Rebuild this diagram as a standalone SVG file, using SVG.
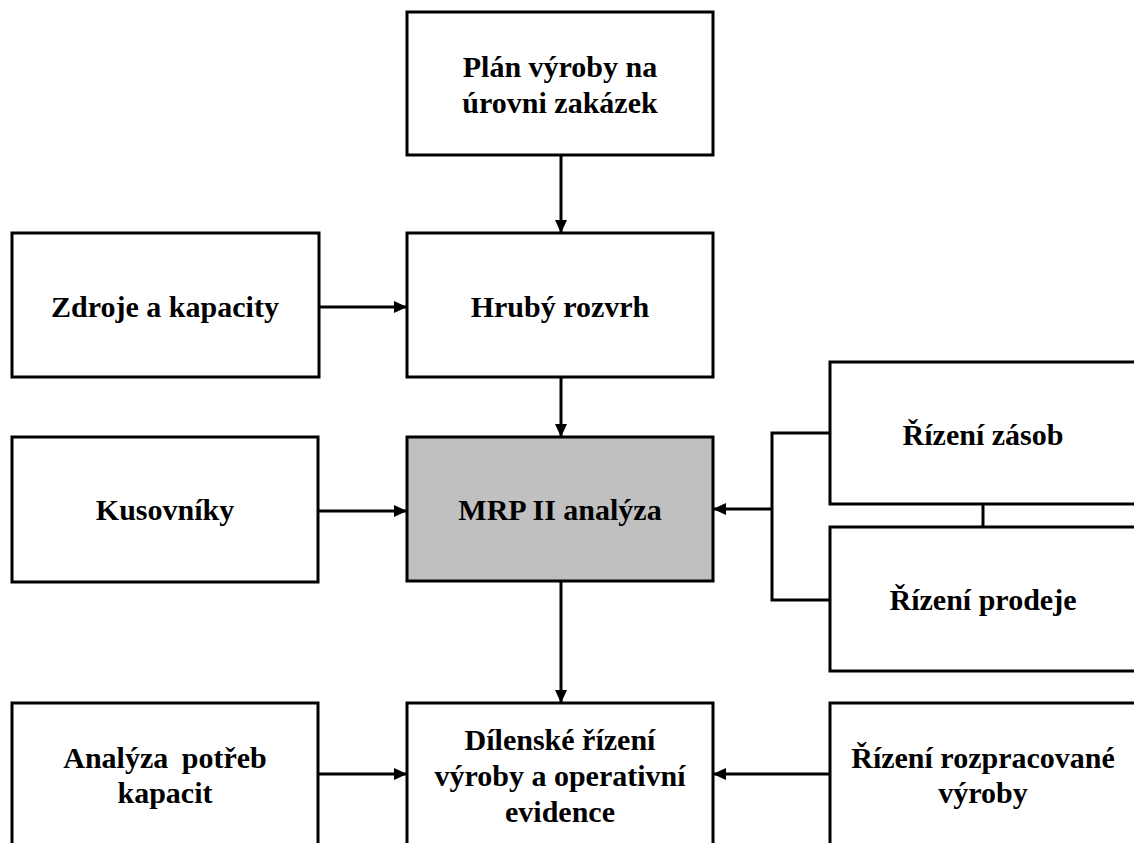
<svg xmlns="http://www.w3.org/2000/svg" width="1134" height="843" viewBox="0 0 1134 843">
  <style>
    .box { fill: #ffffff; stroke: #000000; stroke-width: 3; }
    .box.main { fill: #c0c0c0; }
    .lbl { font-family: 'Liberation Serif', 'Times New Roman', Tinos, 'DejaVu Serif', serif; font-weight: 700; font-size: 30px; fill: #000000; text-anchor: middle; }
    .wire { fill: none; stroke: #000000; stroke-width: 3; }
  </style>
  <defs>
    <marker id="arrow" markerUnits="userSpaceOnUse" markerWidth="13" markerHeight="12" refX="12" refY="6" orient="auto">
      <path d="M0,0 L13,6 L0,12 z" fill="#000000"/>
    </marker>
  </defs>
  <rect width="1134" height="843" fill="#ffffff"/>

  <g id="connectors">
    <line class="wire" x1="561" y1="155" x2="561" y2="232" marker-end="url(#arrow)"/>
    <line class="wire" x1="320" y1="307" x2="406" y2="307" marker-end="url(#arrow)"/>
    <line class="wire" x1="561" y1="377" x2="561" y2="436" marker-end="url(#arrow)"/>
    <line class="wire" x1="319" y1="511" x2="406" y2="511" marker-end="url(#arrow)"/>
    <line class="wire" x1="561" y1="581" x2="561" y2="702" marker-end="url(#arrow)"/>
    <path class="wire" d="M830,433 H772 V600 H830"/>
    <line class="wire" x1="772" y1="509" x2="714" y2="509" marker-end="url(#arrow)"/>
    <line class="wire" x1="983" y1="504" x2="983" y2="527"/>
    <line class="wire" x1="318" y1="774" x2="406" y2="774" marker-end="url(#arrow)"/>
    <line class="wire" x1="830" y1="774" x2="714" y2="774" marker-end="url(#arrow)"/>
  </g>

  <g id="plan">
    <rect class="box" x="407" y="12" width="306" height="143"/>
    <text class="lbl" x="560" y="77">Plán výroby na</text>
    <text class="lbl" x="560" y="113">úrovni zakázek</text>
  </g>
  <g id="hruby-rozvrh">
    <rect class="box" x="407" y="233" width="306" height="144"/>
    <text class="lbl" x="560" y="317">Hrubý rozvrh</text>
  </g>
  <g id="zdroje">
    <rect class="box" x="12" y="233" width="307" height="144"/>
    <text class="lbl" x="165" y="317">Zdroje a kapacity</text>
  </g>
  <g id="kusovniky">
    <rect class="box" x="12" y="437" width="306" height="145"/>
    <text class="lbl" x="165" y="520">Kusovníky</text>
  </g>
  <g id="mrp">
    <rect class="box main" x="407" y="437" width="306" height="144"/>
    <text class="lbl" x="560" y="520">MRP II analýza</text>
  </g>
  <g id="rizeni-zasob">
    <rect class="box" x="830" y="362" width="306" height="142"/>
    <text class="lbl" x="983" y="445">Řízení zásob</text>
  </g>
  <g id="rizeni-prodeje">
    <rect class="box" x="830" y="527" width="306" height="144"/>
    <text class="lbl" x="983" y="610">Řízení prodeje</text>
  </g>
  <g id="analyza-kapacit">
    <rect class="box" x="12" y="703" width="306" height="160"/>
    <text class="lbl" x="165" y="768" word-spacing="6">Analýza potřeb</text>
    <text class="lbl" x="165" y="803">kapacit</text>
  </g>
  <g id="dilenske-rizeni">
    <rect class="box" x="407" y="703" width="306" height="160"/>
    <text class="lbl" x="560" y="750">Dílenské řízení</text>
    <text class="lbl" x="560" y="786">výroby a operativní</text>
    <text class="lbl" x="560" y="822">evidence</text>
  </g>
  <g id="rozpracovana-vyroba">
    <rect class="box" x="830" y="703" width="306" height="160"/>
    <text class="lbl" x="983" y="768">Řízení rozpracované</text>
    <text class="lbl" x="983" y="803">výroby</text>
  </g>
</svg>
